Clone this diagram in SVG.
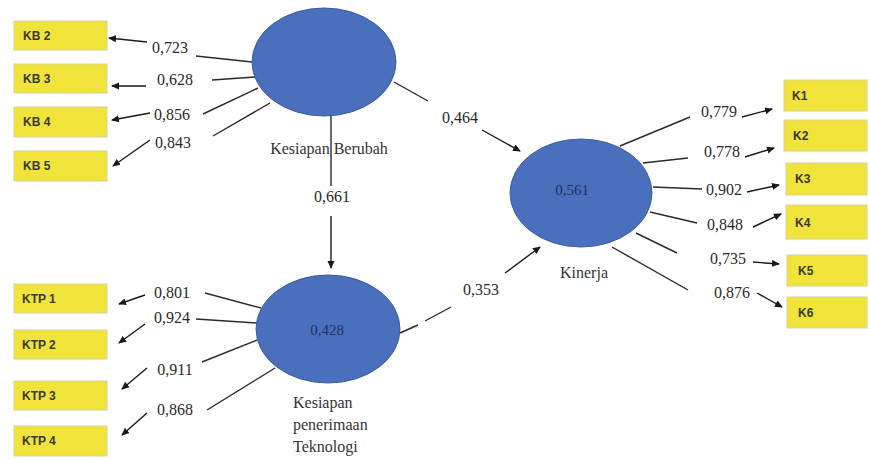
<svg xmlns="http://www.w3.org/2000/svg" width="869" height="460" viewBox="0 0 869 460">
<defs>
<marker id="ah" markerWidth="8" markerHeight="8" refX="7" refY="4" orient="auto" markerUnits="userSpaceOnUse">
<path d="M0,0.5 L8,4 L0,7.5 Z" fill="#1a1a1a"/>
</marker>
</defs>
<style>
.bg{fill:#ffffff}
.lv{fill:#4a6fbc;stroke:#3d5d9f;stroke-width:1}
.ind{fill:#f0e43a;stroke:#d8d2a0;stroke-width:1}
.it{font-family:"Liberation Sans",Arial,sans-serif;font-size:12px;font-weight:bold;fill:#3a3a2a}
.num{font-family:"Liberation Serif","Times New Roman",serif;font-size:16px;fill:#2a2a2a}
.lab{font-family:"Liberation Serif","Times New Roman",serif;font-size:16px;fill:#333333}
.in{font-family:"Liberation Serif","Times New Roman",serif;font-size:15px;fill:#1e3262}
.ln{stroke:#2a2a2a;stroke-width:1.4;fill:none}
.ar{stroke:#1a1a1a;stroke-width:1.4;fill:none;marker-end:url(#ah)}
</style>
<rect class="bg" x="0" y="0" width="869" height="460"/>

<g id="connectors">
<line class="ln" x1="252" y1="62" x2="196" y2="56"/>
<line class="ar" x1="147" y1="42" x2="109" y2="38"/>
<line class="ln" x1="255" y1="77" x2="212" y2="80"/>
<line class="ar" x1="146" y1="86" x2="112" y2="86"/>
<line class="ln" x1="258" y1="88" x2="203" y2="114"/>
<line class="ar" x1="150" y1="113" x2="112" y2="120"/>
<line class="ln" x1="270" y1="103" x2="213" y2="136"/>
<line class="ar" x1="150" y1="140" x2="113" y2="166"/>
<line class="ln" x1="331" y1="116" x2="331" y2="186"/>
<line class="ar" x1="331" y1="216" x2="331" y2="268"/>
<line class="ln" x1="394" y1="82" x2="428" y2="101"/>
<line class="ar" x1="482" y1="130" x2="520" y2="151"/>
<line class="ln" x1="400" y1="333" x2="418" y2="325"/>
<line class="ln" x1="425" y1="321" x2="451" y2="307"/>
<line class="ar" x1="505" y1="273" x2="540" y2="247"/>
<line class="ln" x1="261" y1="308" x2="205" y2="293"/>
<line class="ar" x1="145" y1="295" x2="119" y2="304"/>
<line class="ln" x1="257" y1="323" x2="196" y2="319"/>
<line class="ar" x1="145" y1="324" x2="119" y2="343"/>
<line class="ln" x1="257" y1="340" x2="202" y2="362"/>
<line class="ar" x1="147" y1="368" x2="122" y2="389"/>
<line class="ln" x1="275" y1="368" x2="207" y2="410"/>
<line class="ar" x1="147" y1="413" x2="122" y2="435"/>
<line class="ln" x1="620" y1="146" x2="690" y2="117"/>
<line class="ar" x1="742" y1="117" x2="772" y2="109"/>
<line class="ln" x1="643" y1="163" x2="688" y2="158"/>
<line class="ar" x1="745" y1="157" x2="774" y2="148"/>
<line class="ln" x1="653" y1="187" x2="702" y2="189"/>
<line class="ar" x1="747" y1="192" x2="779" y2="185"/>
<line class="ln" x1="650" y1="212" x2="697" y2="223"/>
<line class="ar" x1="753" y1="227" x2="781" y2="214"/>
<line class="ln" x1="636" y1="233" x2="677" y2="253"/>
<line class="ar" x1="753" y1="262" x2="779" y2="264"/>
<line class="ln" x1="612" y1="247" x2="688" y2="290"/>
<line class="ar" x1="757" y1="293" x2="782" y2="307"/>
</g>

<g id="kb2"><rect class="ind" x="14" y="21" width="93" height="29"/><text class="it" x="23" y="40">KB 2</text></g>
<g id="kb3"><rect class="ind" x="14" y="64" width="93" height="29"/><text class="it" x="23" y="83">KB 3</text></g>
<g id="kb4"><rect class="ind" x="14" y="107" width="93" height="30"/><text class="it" x="23" y="126">KB 4</text></g>
<g id="kb5"><rect class="ind" x="14" y="151" width="93" height="30"/><text class="it" x="23" y="170">KB 5</text></g>

<g id="ktp1"><rect class="ind" x="14" y="284" width="93" height="29"/><text class="it" x="22" y="303">KTP 1</text></g>
<g id="ktp2"><rect class="ind" x="14" y="330" width="93" height="29"/><text class="it" x="22" y="349">KTP 2</text></g>
<g id="ktp3"><rect class="ind" x="14" y="381" width="93" height="29"/><text class="it" x="22" y="400">KTP 3</text></g>
<g id="ktp4"><rect class="ind" x="14" y="426" width="93" height="30"/><text class="it" x="22" y="445">KTP 4</text></g>

<g id="k1"><rect class="ind" x="784" y="80" width="83" height="31"/><text class="it" x="792" y="100">K1</text></g>
<g id="k2"><rect class="ind" x="784" y="120" width="83" height="31"/><text class="it" x="793" y="140">K2</text></g>
<g id="k3"><rect class="ind" x="786" y="163" width="81" height="32"/><text class="it" x="795" y="183">K3</text></g>
<g id="k4"><rect class="ind" x="786" y="205" width="81" height="34"/><text class="it" x="795" y="227">K4</text></g>
<g id="k5"><rect class="ind" x="787" y="255" width="80" height="31"/><text class="it" x="798" y="275">K5</text></g>
<g id="k6"><rect class="ind" x="787" y="297" width="80" height="31"/><text class="it" x="798" y="317">K6</text></g>

<g id="kesiapan-berubah">
<ellipse class="lv" cx="324" cy="62" rx="72" ry="54"/>
<text class="lab" x="329" y="154" text-anchor="middle">Kesiapan Berubah</text>
</g>
<g id="kesiapan-penerimaan-teknologi">
<ellipse class="lv" cx="328" cy="329" rx="72" ry="54"/>
<text class="in" x="327" y="335" text-anchor="middle">0,428</text>
<text class="lab" x="293" y="408">Kesiapan</text>
<text class="lab" x="293" y="430">penerimaan</text>
<text class="lab" x="293" y="452">Teknologi</text>
</g>
<g id="kinerja">
<ellipse class="lv" cx="581" cy="193" rx="71" ry="54"/>
<text class="in" x="572" y="195" text-anchor="middle">0,561</text>
<text class="lab" x="584" y="278" text-anchor="middle">Kinerja</text>
</g>

<g id="labels">
<text class="num" x="170" y="53" text-anchor="middle">0,723</text>
<text class="num" x="175" y="85" text-anchor="middle">0,628</text>
<text class="num" x="172" y="120" text-anchor="middle">0,856</text>
<text class="num" x="173" y="148" text-anchor="middle">0,843</text>
<text class="num" x="332" y="202" text-anchor="middle">0,661</text>
<text class="num" x="460" y="123" text-anchor="middle">0,464</text>
<text class="num" x="481" y="295" text-anchor="middle">0,353</text>
<text class="num" x="172" y="298" text-anchor="middle">0,801</text>
<text class="num" x="172" y="323" text-anchor="middle">0,924</text>
<text class="num" x="175" y="375" text-anchor="middle">0,911</text>
<text class="num" x="175" y="415" text-anchor="middle">0,868</text>
<text class="num" x="719" y="117" text-anchor="middle">0,779</text>
<text class="num" x="722" y="157" text-anchor="middle">0,778</text>
<text class="num" x="724" y="195" text-anchor="middle">0,902</text>
<text class="num" x="725" y="230" text-anchor="middle">0,848</text>
<text class="num" x="728" y="264" text-anchor="middle">0,735</text>
<text class="num" x="732" y="298" text-anchor="middle">0,876</text>
</g>
</svg>
